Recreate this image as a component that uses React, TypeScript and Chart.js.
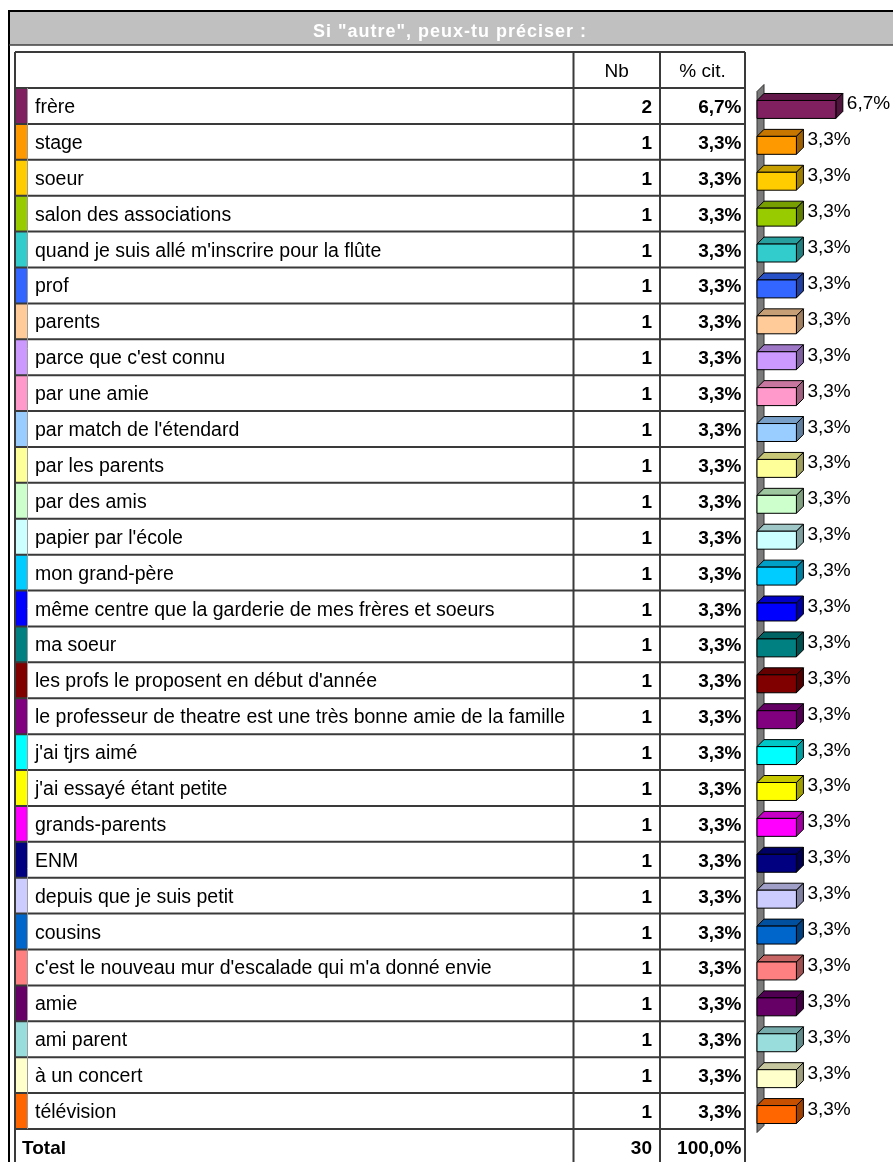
import React, { useEffect, useRef } from "react";
import { Chart, registerables } from "chart.js";

Chart.register(...registerables);

const TITLE = 'Si "autre", peux-tu préciser :';
const COL_HEADERS = ["Nb", "% cit."];
const TOTAL_LABEL = "Total";

const categories = [
  "frère",
  "stage",
  "soeur",
  "salon des associations",
  "quand je suis allé m'inscrire pour la flûte",
  "prof",
  "parents",
  "parce que c'est connu",
  "par une amie",
  "par match de l'étendard",
  "par les parents",
  "par des amis",
  "papier par l'école",
  "mon grand-père",
  "même centre que la garderie de mes frères et soeurs",
  "ma soeur",
  "les profs le proposent en début d'année",
  "le professeur de theatre est une très bonne amie de la famille",
  "j'ai tjrs aimé",
  "j'ai essayé étant petite",
  "grands-parents",
  "ENM",
  "depuis que je suis petit",
  "cousins",
  "c'est le nouveau mur d'escalade qui m'a donné envie",
  "amie",
  "ami parent",
  "à un concert",
  "télévision",
];

const counts = [2, 1, 1, 1, 1, 1, 1, 1, 1, 1, 1, 1, 1, 1, 1, 1, 1, 1, 1, 1, 1, 1, 1, 1, 1, 1, 1, 1, 1];
const total = 30;

const colors = [
  "#802060", "#ff9900", "#ffcc00", "#99cc00", "#33cccc", "#3366ff", "#ffcc99", "#cc99ff",
  "#ff99cc", "#99ccff", "#ffff99", "#ccffcc", "#ccffff", "#00ccff", "#0000ff", "#008080",
  "#800000", "#800080", "#00ffff", "#ffff00", "#ff00ff", "#000080", "#ccccff", "#0066cc",
  "#ff8080", "#660066", "#99dddd", "#ffffcc", "#ff6600",
];

const percents = counts.map((c) => (c / total) * 100);
const fmtPct = (v: number) => v.toFixed(1).replace(".", ",") + "%";

const FONT = "'Liberation Sans', Arial, sans-serif";

function shade(hex: string, f: number) {
  const n = parseInt(hex.slice(1), 16);
  const r = Math.round(((n >> 16) & 255) * f);
  const g = Math.round(((n >> 8) & 255) * f);
  const b = Math.round((n & 255) * f);
  return `rgb(${r},${g},${b})`;
}

const tablePlugin = {
  id: "tableDraw",
  beforeDraw(chart: any) {
    const ctx = chart.ctx as CanvasRenderingContext2D;
    const W = chart.width;
    const H = chart.height;
    const area = chart.chartArea;
    const y = chart.scales.y;
    const band = (area.bottom - area.top) / categories.length;
    ctx.save();
    ctx.fillStyle = "#ffffff";
    ctx.fillRect(0, 0, W, H);

    // outer frame + title band
    ctx.fillStyle = "#c0c0c0";
    ctx.fillRect(9, 11, W, 34);
    ctx.strokeStyle = "#000";
    ctx.lineWidth = 2;
    ctx.beginPath();
    ctx.moveTo(9, H + 5);
    ctx.lineTo(9, 11);
    ctx.lineTo(W + 5, 11);
    ctx.stroke();
    ctx.strokeStyle = "#404040";
    ctx.lineWidth = 1.5;
    ctx.beginPath();
    ctx.moveTo(9, 45);
    ctx.lineTo(W + 5, 45);
    ctx.stroke();

    ctx.fillStyle = "#ffffff";
    ctx.font = `bold 18px ${FONT}`;
    (ctx as any).letterSpacing = "1px";
    ctx.textAlign = "center";
    ctx.textBaseline = "alphabetic";
    ctx.fillText(TITLE, 450, 36.5);
    (ctx as any).letterSpacing = "0px";

    // table
    const colL = 15;
    const stripR = 27;
    const c1 = 573.5;
    const c2 = 660;
    const c3 = 745;
    const headTop = area.top - band;
    const totBottom = area.bottom + band;

    // colour strips
    categories.forEach((_, i) => {
      const cy = y.getPixelForValue(i);
      ctx.fillStyle = colors[i];
      ctx.fillRect(colL, cy - band / 2, stripR - colL, band);
    });

    ctx.strokeStyle = "#3a3a3a";
    ctx.lineWidth = 2;
    ctx.beginPath();
    for (let k = 0; k <= categories.length + 2; k++) {
      const yy = headTop + k * band;
      ctx.moveTo(colL, yy);
      ctx.lineTo(c3, yy);
    }
    [colL, c1, c2, c3].forEach((xx) => {
      ctx.moveTo(xx, headTop);
      ctx.lineTo(xx, totBottom);
    });
    ctx.stroke();
    ctx.strokeStyle = "#9a9a9a";
    ctx.lineWidth = 1;
    ctx.beginPath();
    ctx.moveTo(stripR + 0.5, area.top);
    ctx.lineTo(stripR + 0.5, area.bottom);
    ctx.stroke();

    ctx.fillStyle = "#000";
    ctx.font = `19px ${FONT}`;
    ctx.textAlign = "center";
    const hc = headTop + band / 2 + 7;
    ctx.fillText(COL_HEADERS[0], (c1 + c2) / 2, hc);
    ctx.fillText(COL_HEADERS[1], (c2 + c3) / 2, hc);

    categories.forEach((lab, i) => {
      const cy = y.getPixelForValue(i) + 7;
      ctx.font = `19.5px ${FONT}`;
      ctx.textAlign = "left";
      ctx.fillText(lab, 35, cy);
      ctx.font = `bold 19px ${FONT}`;
      ctx.textAlign = "right";
      ctx.fillText(String(counts[i]), c2 - 8, cy);
      ctx.fillText(fmtPct(percents[i]), c3 - 3.5, cy);
    });

    const ty = area.bottom + band / 2 + 7;
    ctx.font = `bold 19px ${FONT}`;
    ctx.textAlign = "left";
    ctx.fillText(TOTAL_LABEL, 22, ty);
    ctx.textAlign = "right";
    const sum = counts.reduce((a, b) => a + b, 0);
    ctx.fillText(String(sum), c2 - 8, ty);
    ctx.fillText(fmtPct(percents.reduce((a, b) => a + b, 0)), c3 - 3.5, ty);
    ctx.restore();
  },
  afterDatasetsDraw(chart: any) {
    const ctx = chart.ctx as CanvasRenderingContext2D;
    const area = chart.chartArea;
    const xs = chart.scales.x;
    const d = 7;
    const off = d / 2;
    ctx.save();
    // wall
    const x0 = xs.getPixelForValue(0);
    ctx.fillStyle = "#7a7a7a";
    ctx.strokeStyle = "#333";
    ctx.lineWidth = 1;
    ctx.beginPath();
    ctx.moveTo(x0, area.top + off);
    ctx.lineTo(x0 + d, area.top - off);
    ctx.lineTo(x0 + d, area.bottom - off);
    ctx.lineTo(x0, area.bottom + off);
    ctx.closePath();
    ctx.fill();
    ctx.stroke();

    const meta = chart.getDatasetMeta(0);
    meta.data.forEach((el: any, i: number) => {
      const h = el.height;
      const xa = el.base;
      const xb = el.x;
      const yt = el.y + off - h / 2;
      const yb = el.y + off + h / 2;
      const col = colors[i];
      ctx.strokeStyle = "#000";
      ctx.lineWidth = 1;
      ctx.lineJoin = "round";
      // top face
      ctx.fillStyle = shade(col, 0.78);
      ctx.beginPath();
      ctx.moveTo(xa, yt);
      ctx.lineTo(xa + d, yt - d);
      ctx.lineTo(xb + d, yt - d);
      ctx.lineTo(xb, yt);
      ctx.closePath();
      ctx.fill();
      ctx.stroke();
      // side face
      ctx.fillStyle = shade(col, 0.62);
      ctx.beginPath();
      ctx.moveTo(xb, yt);
      ctx.lineTo(xb + d, yt - d);
      ctx.lineTo(xb + d, yb - d);
      ctx.lineTo(xb, yb);
      ctx.closePath();
      ctx.fill();
      ctx.stroke();
      // front face
      ctx.fillStyle = col;
      ctx.fillRect(xa, yt, xb - xa, h);
      ctx.strokeRect(xa, yt, xb - xa, h);
      // label
      ctx.fillStyle = "#000";
      ctx.font = `19px ${FONT}`;
      ctx.textAlign = "left";
      ctx.textBaseline = "alphabetic";
      ctx.fillText(fmtPct(percents[i]), xb + d + 4, el.y + 3.5);
    });
    ctx.restore();
  },
};

export default function App() {
  const ref = useRef<HTMLCanvasElement | null>(null);
  useEffect(() => {
    if (!ref.current) return;
    const chart = new Chart(ref.current, {
      type: "bar",
      data: {
        labels: categories,
        datasets: [
          {
            data: percents,
            backgroundColor: "rgba(0,0,0,0)",
            borderWidth: 0,
            categoryPercentage: 1,
            barPercentage: 0.5,
          },
        ],
      },
      options: {
        indexAxis: "y",
        responsive: false,
        animation: false,
        devicePixelRatio: 1,
        layout: { padding: { left: 757, right: 0, top: 88, bottom: 33 } },
        scales: {
          x: { display: false, min: 0, max: 11.5 },
          y: { display: false },
        },
        plugins: { legend: { display: false }, tooltip: { enabled: false } },
      },
      plugins: [tablePlugin],
    } as any);
    return () => chart.destroy();
  }, []);
  return (
    <div style={{ position: "absolute", left: 0, top: 0, width: 893, height: 1162 }}>
      <canvas ref={ref} width={893} height={1162} style={{ display: "block" }} />
    </div>
  );
}
